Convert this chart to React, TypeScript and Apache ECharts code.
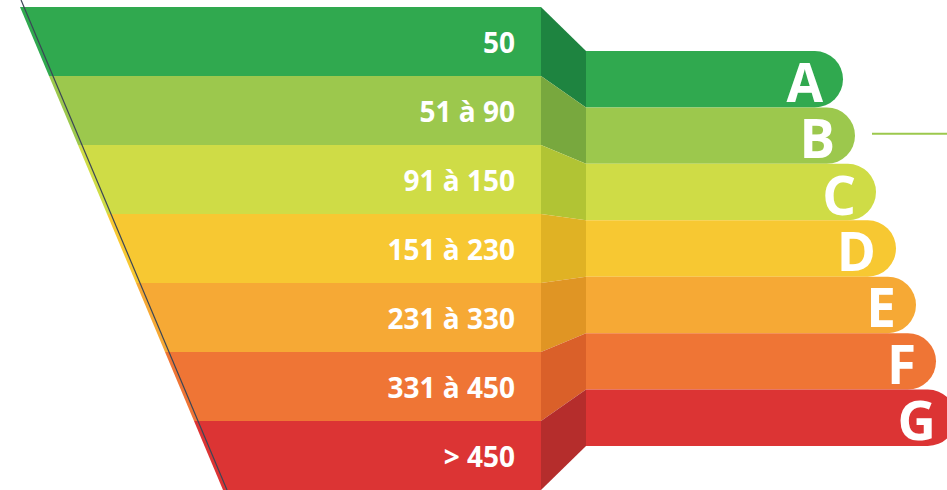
import React, { useEffect, useRef } from "react";
import * as echarts from "echarts";

// ---- data ----
const bandLabels = ["50", "51 à 90", "91 à 150", "151 à 230", "231 à 330", "331 à 450", "> 450"];
const levelValues = [7, 6, 5, 4, 3, 2, 1];
const letters = ["A", "B", "C", "D", "E", "F", "G"];
const barLengths = [257, 269, 290, 310, 330, 350, 370];
const faceColors = ["#30a94f", "#9cc84d", "#cfdc46", "#f7c832", "#f6a935", "#ef7535", "#dc3434"];
const sideColors = ["#1e8440", "#78a83e", "#b1c434", "#e0b224", "#e09524", "#da6029", "#b52d2c"];

// ---- layout ----
const W = 947;
const H = 490;
const FUNNEL_LEFT = 20;
const FUNNEL_TOP = 7;
const FUNNEL_W = 521;
const FUNNEL_H = 483;
const FUNNEL_MIN = 318;
const BAR_LEFT = 586;
const BAR_TOP = 51;
const BAR_H = 395;
const BAR_W = W - BAR_LEFT;

export default function App() {
  const ref = useRef<HTMLDivElement>(null);
  useEffect(() => {
    if (!ref.current) return;
    const chart = echarts.init(ref.current, undefined, { renderer: "svg" });
    const funnelRight = FUNNEL_LEFT + FUNNEL_W;
    const bandH = FUNNEL_H / bandLabels.length;
    const slope = (FUNNEL_W - FUNNEL_MIN) / FUNNEL_H;
    const barBand = BAR_H / letters.length;
    const lineOff = 4;
    chart.setOption({
      animation: false,
      grid: { left: BAR_LEFT, top: BAR_TOP, right: 0, height: BAR_H },
      xAxis: { type: "value", min: 0, max: BAR_W, show: false },
      yAxis: { type: "category", data: letters, inverse: true, show: false },
      graphic: [
        {
          type: "line",
          silent: true,
          z: 100,
          shape: {
            x1: FUNNEL_LEFT + lineOff - slope * FUNNEL_TOP,
            y1: 0,
            x2: FUNNEL_LEFT + lineOff + slope * FUNNEL_H,
            y2: H,
          },
          style: { stroke: "#3b4656", lineWidth: 1.2 },
        },
        {
          type: "line",
          silent: true,
          shape: {
            x1: 872,
            y1: BAR_TOP + barBand * 1.5 - 2,
            x2: W,
            y2: BAR_TOP + barBand * 1.5 - 2,
          },
          style: { stroke: "#9cc84d", lineWidth: 2 },
        },
      ],
      series: [
        {
          type: "funnel",
          silent: true,
          left: FUNNEL_LEFT,
          top: FUNNEL_TOP,
          width: FUNNEL_W,
          height: FUNNEL_H,
          min: 0,
          max: 7,
          minSize: FUNNEL_MIN,
          maxSize: FUNNEL_W,
          sort: "none",
          gap: 0,
          funnelAlign: "right",
          label: {
            show: true,
            position: "insideRight",
            color: "#ffffff",
            fontFamily: "Open Sans",
            fontWeight: "bold",
            fontSize: 28,
            lineHeight: 30,
            padding: [9, 21, 0, 0],
          },
          labelLine: { show: false },
          itemStyle: { borderWidth: 0 },
          emphasis: { disabled: true },
          data: bandLabels.map((b, i) => ({
            name: b,
            value: levelValues[i],
            itemStyle: { color: faceColors[i] },
          })),
        },
        {
          type: "custom",
          silent: true,
          clip: false,
          data: letters.map((_, i) => [0, i]),
          encode: { x: 0, y: 1 },
          renderItem: (params: any, api: any) => {
            const i = params.dataIndex;
            const p = api.coord([0, i]);
            const half = api.size([0, 1])[1] / 2;
            return {
              type: "polygon",
              shape: {
                points: [
                  [funnelRight, FUNNEL_TOP + bandH * i],
                  [p[0], p[1] - half],
                  [p[0], p[1] + half],
                  [funnelRight, FUNNEL_TOP + bandH * (i + 1)],
                ],
              },
              style: { fill: sideColors[i] },
            };
          },
        },
        {
          type: "bar",
          silent: true,
          clip: false,
          barCategoryGap: "0%",
          data: barLengths.map((v, i) => ({
            value: v,
            itemStyle: {
              color: faceColors[i],
              borderRadius: [0, barBand / 2, barBand / 2, 0],
            },
          })),
          label: {
            show: true,
            position: "insideRight",
            distance: 20,
            offset: [0, 2],
            formatter: "{b}",
            color: "#ffffff",
            fontFamily: "Open Sans",
            fontWeight: "bold",
            fontSize: 53,
            lineHeight: 40,
          },
        },
      ],
    });
    return () => chart.dispose();
  }, []);
  return (
    <div
      ref={ref}
      style={{ position: "absolute", left: 0, top: 0, width: W, height: H }}
    />
  );
}
